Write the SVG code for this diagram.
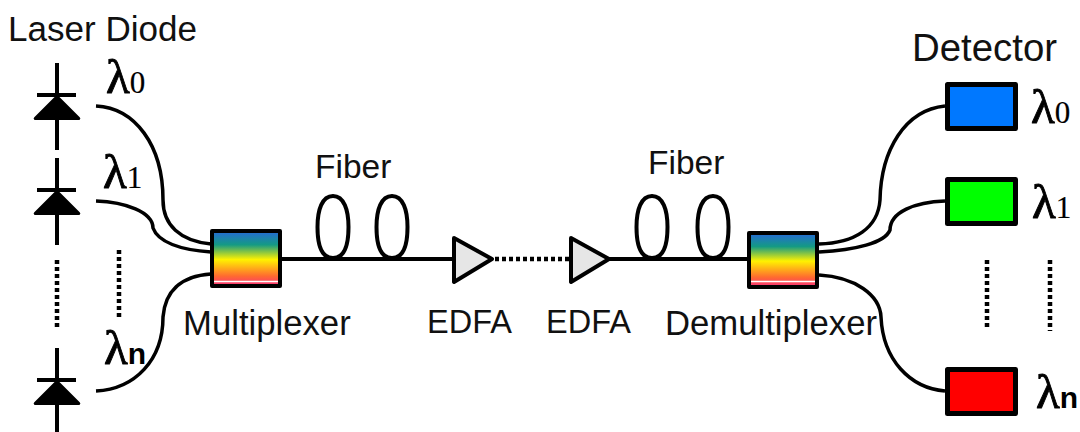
<svg xmlns="http://www.w3.org/2000/svg" width="1080" height="432" viewBox="0 0 1080 432">
<style>
.t{font-family:"Liberation Sans",Arial,sans-serif;font-size:34.700px;fill:#111}
.e{font-size:32.500px}
.det{font-size:38.400px}
.f{font-size:33.500px}
.l{font-family:"Liberation Serif","Times New Roman",serif;font-size:49px;fill:#000;stroke:#000;stroke-width:.9}
.s{font-family:"Liberation Serif","Times New Roman",serif;font-size:31px;stroke-width:.2}
.b{font-family:"Liberation Sans",Arial,sans-serif;font-weight:bold;font-size:30px;stroke-width:0}
.w{fill:none;stroke:#000;stroke-width:3.500}
.d{fill:none;stroke:#000;stroke-width:4.500;stroke-dasharray:4 3}
.v{fill:none;stroke:#000;stroke-width:4}
.dev{stroke:#000;stroke-width:4;stroke-linejoin:round}
.det-box{stroke:#000;stroke-width:5;stroke-linejoin:round}
.amp{fill:#e6e6e6;stroke:#000;stroke-width:4;stroke-linejoin:round}
</style>
<defs>
<linearGradient id="spec" x1="0" y1="0" x2="0" y2="1">
<stop offset="0" stop-color="#2668d8"/><stop offset=".25" stop-color="#149a84"/><stop offset=".52" stop-color="#fff200"/><stop offset=".82" stop-color="#ff6a30"/><stop offset="1" stop-color="#f8307c"/>
</linearGradient>
<g id="diode"><path class="v" d="M57 0V87"/><path d="M37 32H76" class="v"/><path d="M57 33L79 55Q80 56 78 56H36Q34 56 35 55Z" stroke="#000" stroke-width="2" stroke-linejoin="round"/></g>
<path id="loop" class="v" d="M0 196C11 196 15.500 210 15.500 227C15.500 246 11 258 0 258C-11 258 -15.500 246 -15.500 227C-15.500 210 -11 196 0 196Z"/>
</defs>
<g id="connectors">
<path class="w" d="M96 106C135 108 163 145 163 200C163 225 180 241 211 244"/>
<path class="w" d="M96 201C125 202 153 212 153 228C158 242 180 250 211 252"/>
<path class="w" d="M96 391C135 389 163 360 163 317C165 292 180 276 211 274"/>
<path class="v" d="M282 259H453"/>
<path class="d" d="M495 259H570"/>
<path class="v" d="M609 259H747"/>
<path class="w" d="M945 106C905 110 881 150 880 200C878 228 855 243 819 244"/>
<path class="w" d="M945 201C915 202 890 212 890 230C885 243 855 250 819 252"/>
<path class="w" d="M819 275C855 277 880 295 881 317C883 360 910 388 945 391"/>
<path class="d" d="M57 260V330"/><path class="d" d="M119 250V320"/><path class="d" d="M987 260V330"/><path class="d" d="M1050 260V331"/>
</g>
<g id="laser-0"><use href="#diode" y="63"/></g>
<g id="laser-1"><use href="#diode" y="158"/></g>
<g id="laser-n"><use href="#diode" y="348"/></g>
<g id="mux"><rect class="dev" x="212" y="231" width="68" height="55" fill="url(#spec)"/><path d="M214 281.500H278" stroke="#fff" stroke-width="1.500"/></g>
<g id="demux"><rect class="dev" x="749" y="233" width="68" height="54" fill="url(#spec)"/><path d="M751 281.500H815" stroke="#fff" stroke-width="1.500"/></g>
<g id="fiber-1"><use href="#loop" x="333"/><use href="#loop" x="392"/></g>
<g id="fiber-2"><use href="#loop" x="652"/><use href="#loop" x="713"/></g>
<g id="edfa-1"><path class="amp" d="M454 238L492 259L454 282Z"/></g>
<g id="edfa-2"><path class="amp" d="M571 238L609 259L571 282Z"/></g>
<g id="det-0"><rect class="det-box" x="947.500" y="84.500" width="68" height="44" fill="#0078ff"/></g>
<g id="det-1"><rect class="det-box" x="947.500" y="179.500" width="68" height="44" fill="#00ff00"/></g>
<g id="det-n"><rect class="det-box" x="947.500" y="369.500" width="68" height="44" fill="#ff0000"/></g>
<g id="labels">
<text class="t" x="8" y="41" textLength="189" lengthAdjust="spacingAndGlyphs">Laser Diode</text>
<text class="t det" x="912" y="61">Detector</text>
<text class="t" x="183" y="335">Multiplexer</text>
<text class="t f" x="315" y="178">Fiber</text>
<text class="t f" x="648" y="174">Fiber</text>
<text class="t e" x="427" y="333">EDFA</text>
<text class="t e" x="546" y="333">EDFA</text>
<text class="t" x="665" y="335">Demultiplexer</text>
<text class="l" x="106" y="93">λ<tspan class="s">0</tspan></text>
<text class="l" x="103" y="188">λ<tspan class="s">1</tspan></text>
<text class="l" x="104" y="364">λ<tspan class="b">n</tspan></text>
<text class="l" x="1031" y="123">λ<tspan class="s">0</tspan></text>
<text class="l" x="1032" y="218">λ<tspan class="s">1</tspan></text>
<text class="l" x="1036" y="408">λ<tspan class="b">n</tspan></text>
</g>
</svg>
